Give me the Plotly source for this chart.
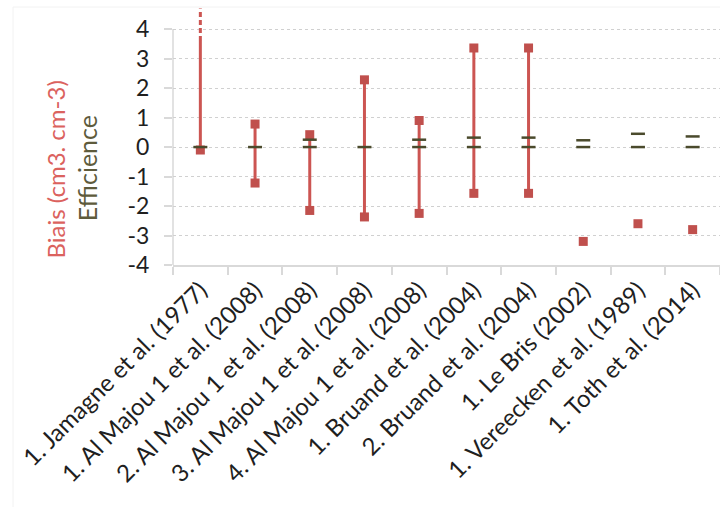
import plotly.graph_objects as go

categories = [
    "1. Jamagne et al. (1977)",
    "1. Al Majou 1 et al. (2008)",
    "2. Al Majou 1 et al. (2008)",
    "3. Al Majou 1 et al. (2008)",
    "4. Al Majou 1 et al. (2008)",
    "1. Bruand et al. (2004)",
    "2. Bruand et al. (2004)",
    "1. Le Bris (2002)",
    "1. Vereecken et al. (1989)",
    "1. Toth et al. (2014)",
]
bias_low = [-0.1, -1.22, -2.15, -2.37, -2.25, -1.57, -1.57, -3.2, -2.6, -2.8]
bias_high = [4.7, 0.78, 0.42, 2.28, 0.9, 3.36, 3.36, None, None, None]
eff_min = [0, 0, 0, 0, 0, 0, 0, 0, 0, 0]
eff_max = [0, 0, 0.25, 0, 0.25, 0.32, 0.32, 0.23, 0.45, 0.36]
ytick_vals = [-4, -3, -2, -1, 0, 1, 2, 3, 4]
ytick_text = ["-4", "-3", "-2", "-1", "0", "1", "2", "3", "4"]
y_max_axis = 4
solid_limit = 3.6

RED = "#C0504D"
LINE_RED = "#CC5552"
OLIVE = "#4A4A2C"

fig = go.Figure()

lx, ly, dx, dy = [], [], [], []
for c, lo, hi in zip(categories, bias_low, bias_high):
    if hi is None:
        continue
    if hi > y_max_axis:
        lx += [c, c, None]
        ly += [lo, solid_limit, None]
        dx += [c, c, None]
        dy += [solid_limit, hi, None]
    else:
        lx += [c, c, None]
        ly += [lo, hi, None]
fig.add_trace(go.Scatter(x=lx, y=ly, mode="lines", line=dict(color=LINE_RED, width=3),
                         hoverinfo="skip", showlegend=False, cliponaxis=False))
fig.add_trace(go.Scatter(x=dx, y=dy, mode="lines", line=dict(color=LINE_RED, width=3, dash="5px,3px"),
                         hoverinfo="skip", showlegend=False, cliponaxis=False))

mx, my = [], []
for c, lo, hi in zip(categories, bias_low, bias_high):
    mx.append(c); my.append(lo)
    if hi is not None and hi <= y_max_axis:
        mx.append(c); my.append(hi)
fig.add_trace(go.Scatter(x=mx, y=my, mode="markers",
                         marker=dict(symbol="square", size=9, color=RED),
                         showlegend=False))

ex, ey = [], []
for c, a, b in zip(categories, eff_min, eff_max):
    ex.append(c); ey.append(a)
    if b != a:
        ex.append(c); ey.append(b)
fig.add_trace(go.Scatter(x=ex, y=ey, mode="markers",
                         marker=dict(symbol="line-ew", size=10, line=dict(color=OLIVE, width=2.5)),
                         showlegend=False))

fig.add_shape(type="line", xref="paper", yref="y", x0=0, x1=0, y0=-4, y1=4,
              line=dict(color="#D9D9D9", width=1.5), layer="below")
fig.add_shape(type="line", xref="paper", yref="paper", x0=-0.2925, x1=-0.2925, y0=1.0, y1=-1.0,
              line=dict(color="#F2F2F2", width=1), layer="below")
fig.add_shape(type="line", xref="paper", yref="paper", x0=-0.2925, x1=1.0, y0=1.0, y1=1.0,
              line=dict(color="#F2F2F2", width=1), layer="below")

fig.add_annotation(text="Biais (cm3. cm-3)", xref="paper", yref="paper", x=-0.245, y=0.372,
                   textangle=-90, showarrow=False, font=dict(family="Lato", size=24, color="#DB625E"))
fig.add_annotation(text="Efficience", xref="paper", yref="paper", x=-0.188, y=0.376,
                   textangle=-90, showarrow=False, font=dict(family="Lato", size=25, color="#5E5B3C"))

fig.update_layout(
    width=720, height=507,
    margin=dict(l=173, r=0, t=7, b=242),
    paper_bgcolor="white", plot_bgcolor="white",
    font=dict(family="Lato", size=20, color="#262626"),
    xaxis=dict(type="category", categoryorder="array", categoryarray=categories,
               range=[-0.5, 9.5], tickangle=-45, tickson="boundaries",
               ticks="outside", ticklen=8, tickcolor="#D9D9D9", tickwidth=1.5,
               showline=True, linecolor="#D9D9D9", linewidth=1.5, showgrid=False,
               tickfont=dict(family="Lato", size=24, color="#1F1F1F")),
    yaxis=dict(range=[-4, 4.75], tickvals=ytick_vals, ticktext=ytick_text,
               ticks="outside", ticklen=8,
               tickcolor="#D9D9D9", tickwidth=1.5, showline=False, zeroline=False,
               showgrid=True, gridcolor="#D0D0D0", griddash="dot", gridwidth=1,
               ticklabelstandoff=10,
               tickfont=dict(family="Lato", size=23, color="#1F1F1F")),
)

fig.write_html("out.html")
